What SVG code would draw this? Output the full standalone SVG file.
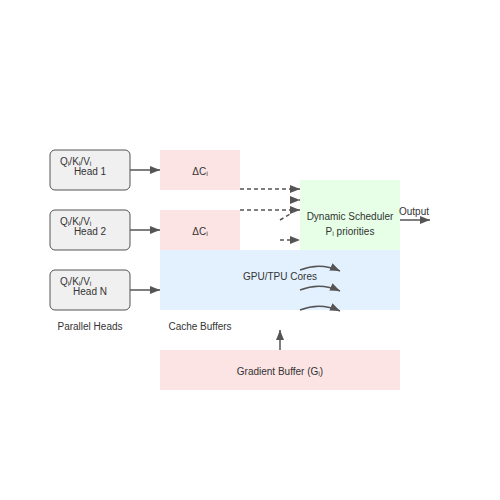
<svg xmlns="http://www.w3.org/2000/svg" width="500" height="500" viewBox="0 0 500 500">
<defs>
<marker id="ah" markerWidth="10" markerHeight="8" refX="10" refY="4" orient="auto" markerUnits="userSpaceOnUse">
<path d="M0,0 L10,4 L0,8 Z" fill="#555"/>
</marker>
<style>
text{font-family:"Liberation Sans",Arial,"DejaVu Sans",sans-serif;font-size:10px;fill:#333}
.head{fill:#f0f0f0;stroke:#555;stroke-width:1}
.cache{fill:#fde4e4}
.ln{stroke:#555;stroke-width:1.5;fill:none;marker-end:url(#ah)}
.dash{stroke:#555;stroke-width:1.5;fill:none;stroke-dasharray:4,3}
.mid{text-anchor:middle}
</style>
</defs>
<rect width="500" height="500" fill="#fff"/>
<g id="head1"><rect class="head" x="50" y="150" width="80" height="40" rx="5"/><text x="60" y="165">Qᵢ/Kᵢ/Vᵢ</text><text x="90" y="175" class="mid">Head 1</text></g>
<g id="head2"><rect class="head" x="50" y="210" width="80" height="40" rx="5"/><text x="60" y="225">Qᵢ/Kᵢ/Vᵢ</text><text x="90" y="235" class="mid">Head 2</text></g>
<g id="headN"><rect class="head" x="50" y="270" width="80" height="40" rx="5"/><text x="60" y="285">Qᵢ/Kᵢ/Vᵢ</text><text x="90" y="295" class="mid">Head N</text></g>
<g id="cache1"><rect class="cache" x="160" y="150" width="80" height="40"/><text x="200" y="175" class="mid">ΔCᵢ</text></g>
<g id="cache2"><rect class="cache" x="160" y="210" width="80" height="40"/><text x="200" y="235" class="mid">ΔCᵢ</text></g>
<g id="cores"><rect x="160" y="250" width="240" height="60" fill="#e3f0fd"/><text x="280" y="280" class="mid">GPU/TPU Cores</text></g>
<g id="scheduler"><rect x="300" y="180" width="100" height="70" fill="#e6ffe6"/><text x="350" y="220" class="mid">Dynamic Scheduler</text><text x="350" y="235" class="mid">Pᵢ priorities</text></g>
<g id="gradient"><rect class="cache" x="160" y="350" width="240" height="40"/><text x="280" y="375" class="mid">Gradient Buffer (Gᵢ)</text></g>
<g id="labels"><text x="90" y="330" class="mid">Parallel Heads</text><text x="200" y="330" class="mid">Cache Buffers</text><text x="399" y="215">Output</text></g>
<g id="connectors">
<line class="ln" x1="130" y1="170" x2="160" y2="170"/>
<line class="ln" x1="130" y1="230" x2="160" y2="230"/>
<line class="ln" x1="130" y1="290" x2="160" y2="290"/>
<line class="ln dash" x1="240" y1="189" x2="300" y2="189" style="marker-end:url(#ah)"/>
<line class="ln" x1="299" y1="200" x2="300" y2="200"/>
<line class="ln dash" x1="240" y1="210" x2="300" y2="210" style="marker-end:url(#ah)"/>
<line class="dash" x1="280" y1="220" x2="292" y2="213"/>
<line class="ln dash" x1="280" y1="240" x2="300" y2="240" style="marker-end:url(#ah)"/>
<line class="ln" x1="400" y1="220" x2="430" y2="220"/>
<line class="ln" x1="280" y1="350" x2="280" y2="330"/>
<path class="ln" d="M300,270 Q320,262 340,271"/>
<path class="ln" d="M300,290 Q320,282 340,291"/>
<path class="ln" d="M300,310 Q320,302 340,311"/>
</g>
</svg>
